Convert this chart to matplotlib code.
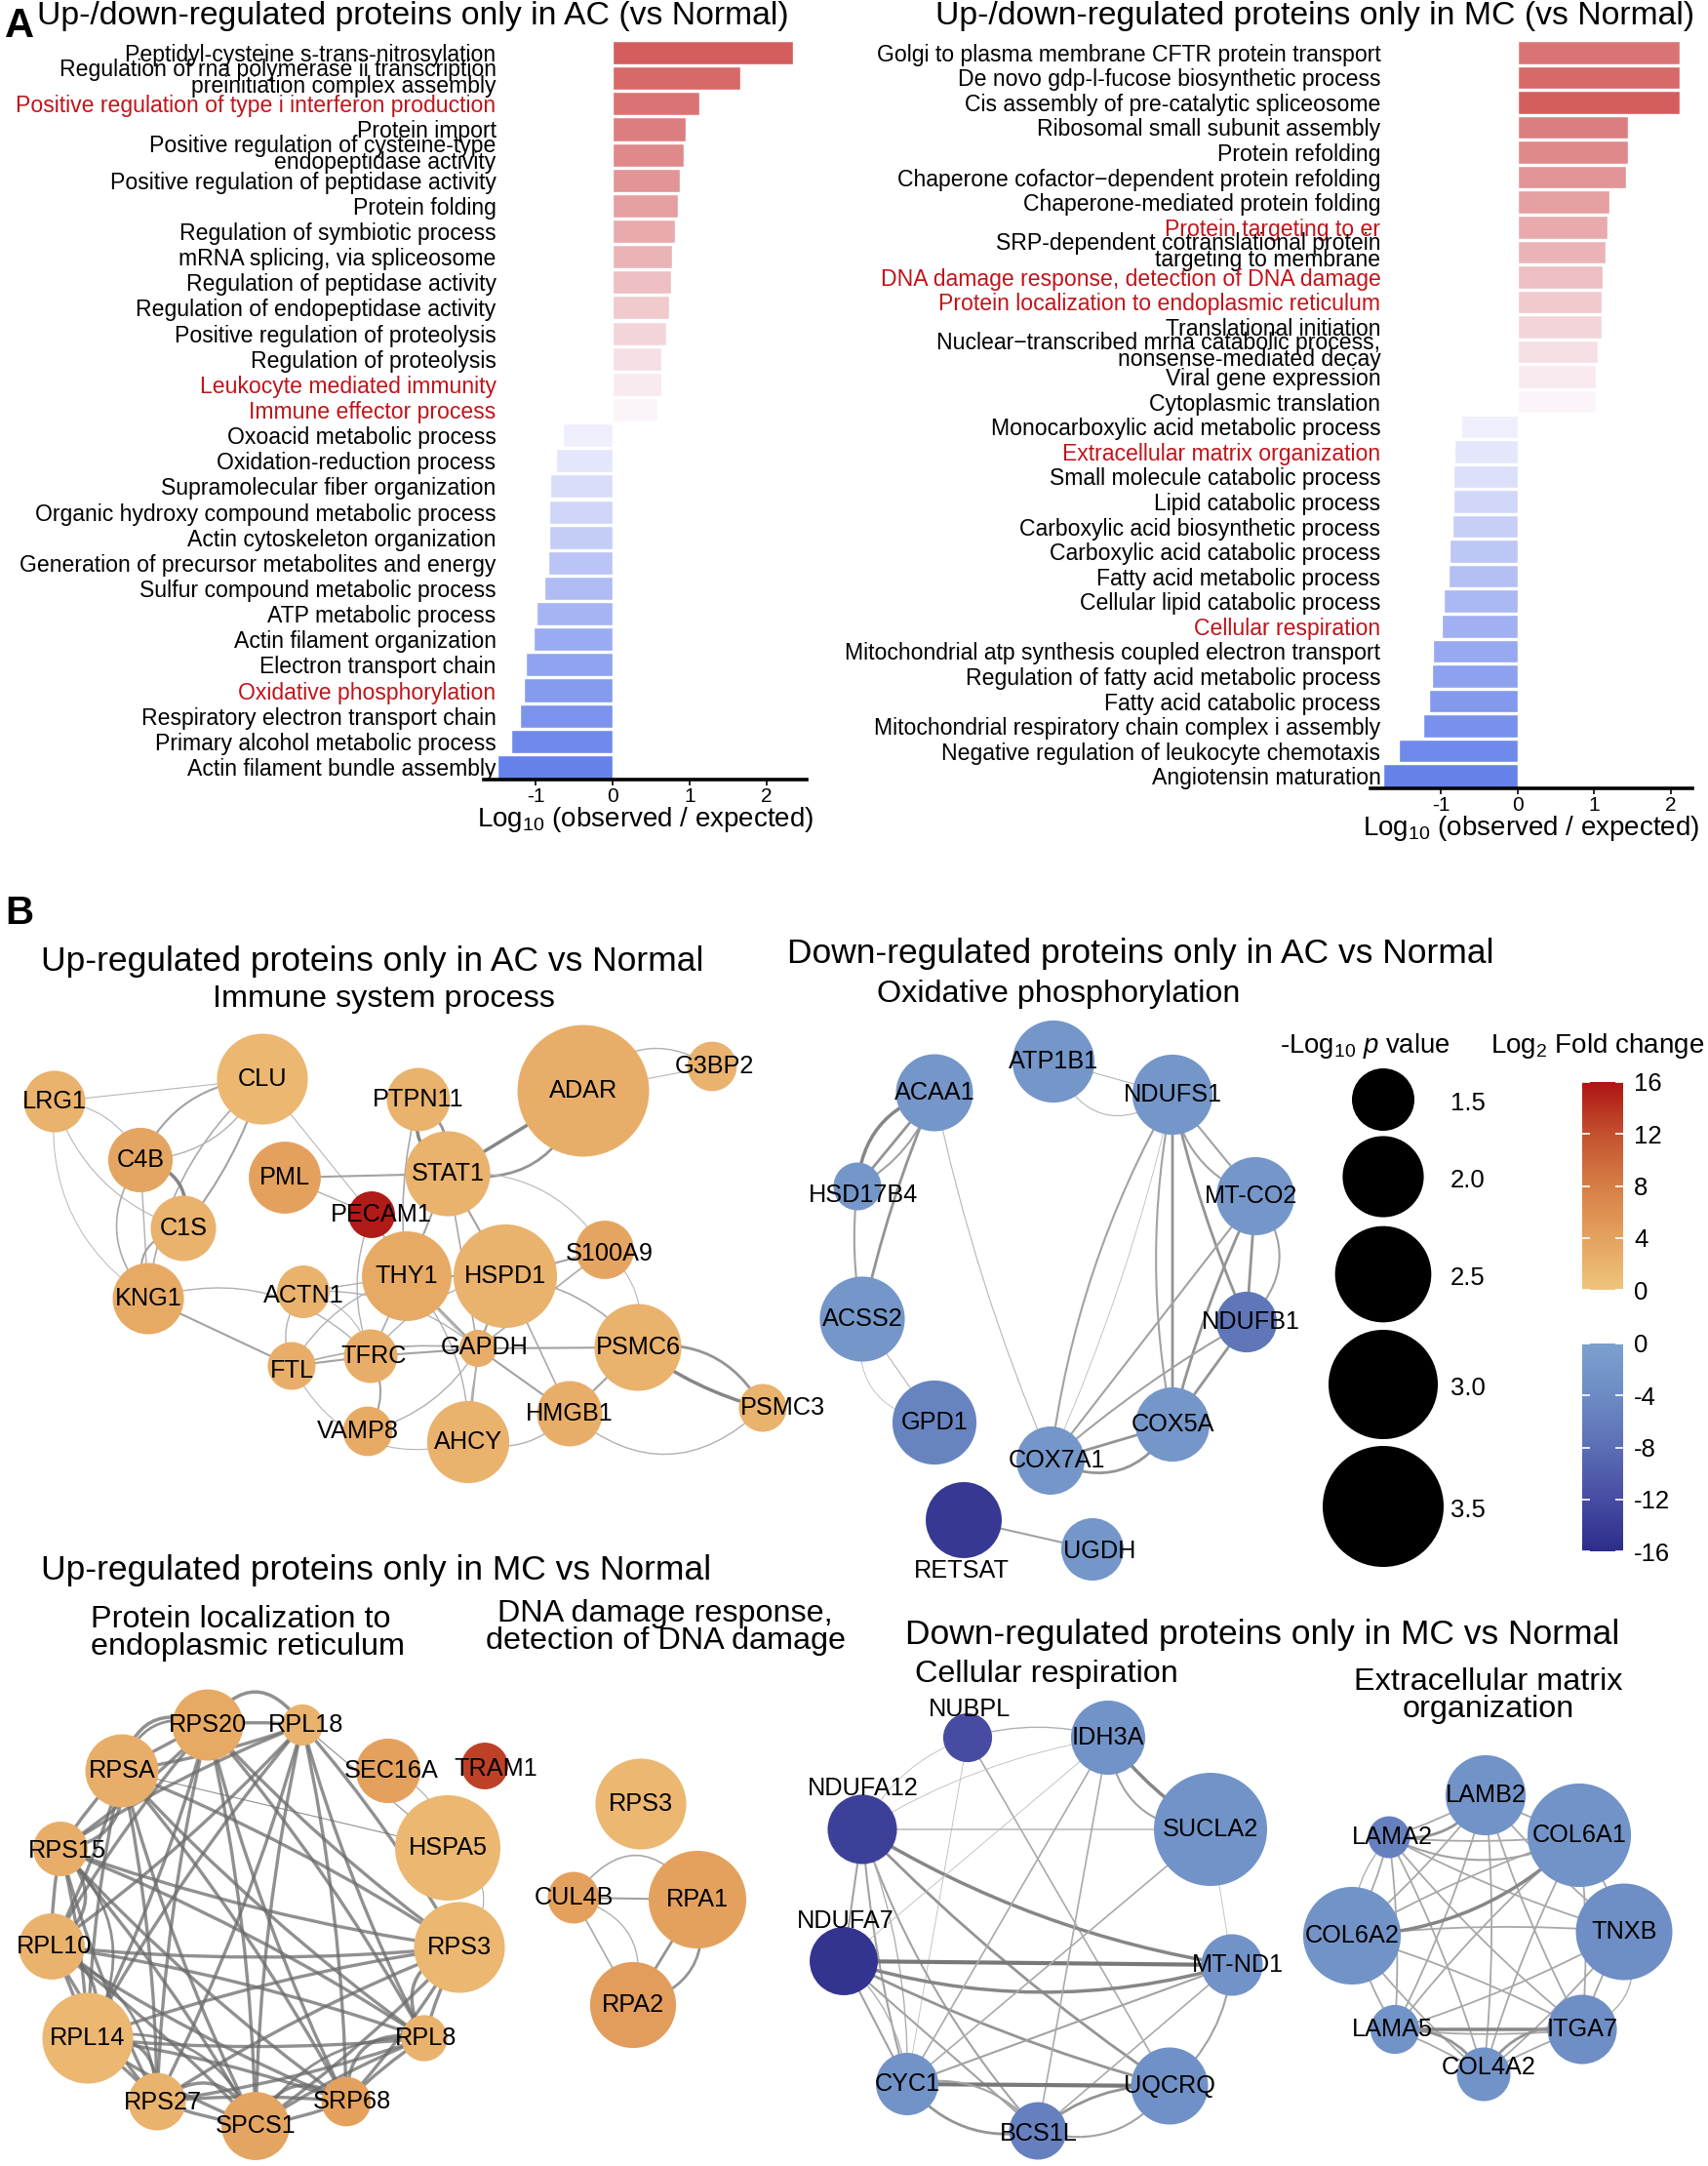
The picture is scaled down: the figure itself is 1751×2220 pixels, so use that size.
import numpy as np
import matplotlib
matplotlib.use('Agg')
import matplotlib.pyplot as plt
from matplotlib.patches import Circle, FancyArrowPatch
from matplotlib.colors import LinearSegmentedColormap, Normalize, to_rgb
from matplotlib.cm import ScalarMappable
from itertools import combinations

plt.rcParams['font.family'] = ['Liberation Sans', 'DejaVu Sans']
plt.rcParams['mathtext.fontset'] = 'custom'
plt.rcParams['mathtext.rm'] = 'Liberation Sans'
plt.rcParams['mathtext.it'] = 'Liberation Sans:italic'
plt.rcParams['mathtext.bf'] = 'Liberation Sans:bold'

# ---------------- DATA: panel A ----------------
ac_terms = [
    "Peptidyl-cysteine s-trans-nitrosylation",
    "Regulation of rna polymerase ii transcription\npreinitiation complex assembly",
    "Positive regulation of type i interferon production",
    "Protein import",
    "Positive regulation of cysteine-type\nendopeptidase activity",
    "Positive regulation of peptidase activity",
    "Protein folding",
    "Regulation of symbiotic process",
    "mRNA splicing, via spliceosome",
    "Regulation of peptidase activity",
    "Regulation of endopeptidase activity",
    "Positive regulation of proteolysis",
    "Regulation of proteolysis",
    "Leukocyte mediated immunity",
    "Immune effector process",
    "Oxoacid metabolic process",
    "Oxidation-reduction process",
    "Supramolecular fiber organization",
    "Organic hydroxy compound metabolic process",
    "Actin cytoskeleton organization",
    "Generation of precursor metabolites and energy",
    "Sulfur compound metabolic process",
    "ATP metabolic process",
    "Actin filament organization",
    "Electron transport chain",
    "Oxidative phosphorylation",
    "Respiratory electron transport chain",
    "Primary alcohol metabolic process",
    "Actin filament bundle assembly",
]
ac_values = [2.34, 1.66, 1.13, 0.95, 0.93, 0.88, 0.85, 0.81, 0.77, 0.76, 0.74, 0.70, 0.64, 0.64, 0.58,
             -0.64, -0.73, -0.81, -0.82, -0.82, -0.83, -0.89, -0.99, -1.03, -1.13, -1.15, -1.20, -1.32, -1.49]
ac_highlight = ["Positive regulation of type i interferon production", "Leukocyte mediated immunity",
                "Immune effector process", "Oxidative phosphorylation"]

mc_terms = [
    "Golgi to plasma membrane CFTR protein transport",
    "De novo gdp-l-fucose biosynthetic process",
    "Cis assembly of pre-catalytic spliceosome",
    "Ribosomal small subunit assembly",
    "Protein refolding",
    "Chaperone cofactor\u2212dependent protein refolding",
    "Chaperone-mediated protein folding",
    "Protein targeting to er",
    "SRP-dependent cotranslational protein\ntargeting to membrane",
    "DNA damage response, detection of DNA damage",
    "Protein localization to endoplasmic reticulum",
    "Translational initiation",
    "Nuclear\u2212transcribed mrna catabolic process,\nnonsense-mediated decay",
    "Viral gene expression",
    "Cytoplasmic translation",
    "Monocarboxylic acid metabolic process",
    "Extracellular matrix organization",
    "Small molecule catabolic process",
    "Lipid catabolic process",
    "Carboxylic acid biosynthetic process",
    "Carboxylic acid catabolic process",
    "Fatty acid metabolic process",
    "Cellular lipid catabolic process",
    "Cellular respiration",
    "Mitochondrial atp synthesis coupled electron transport",
    "Regulation of fatty acid metabolic process",
    "Fatty acid catabolic process",
    "Mitochondrial respiratory chain complex i assembly",
    "Negative regulation of leukocyte chemotaxis",
    "Angiotensin maturation",
]
mc_values = [2.11, 2.11, 2.11, 1.44, 1.44, 1.41, 1.20, 1.17, 1.15, 1.11, 1.10, 1.09, 1.05, 1.02, 1.02,
             -0.74, -0.82, -0.84, -0.84, -0.85, -0.89, -0.90, -0.96, -0.99, -1.10, -1.12, -1.16, -1.23, -1.55, -1.75]
mc_highlight = ["Protein targeting to er", "DNA damage response, detection of DNA damage",
                "Protein localization to endoplasmic reticulum", "Extracellular matrix organization",
                "Cellular respiration"]
mc_up_shade_rank = [2, 1, 0, 3, 4, 5, 6, 7, 8, 9, 10, 11, 12, 13, 14]

# ---------------- DATA: panel B networks ----------------
# layout positions (pixels) ; fc = log2 fold change ; nlp = -log10 p
upac_names = ["LRG1", "CLU", "C4B", "C1S", "KNG1", "PML", "PECAM1", "PTPN11", "STAT1", "ADAR", "G3BP2",
              "THY1", "HSPD1", "S100A9", "ACTN1", "FTL", "TFRC", "GAPDH", "PSMC6", "PSMC3", "VAMP8", "AHCY", "HMGB1"]
upac_x = [56, 269, 144, 188, 152, 292, 381, 429, 459, 598, 730, 417, 518, 620, 311, 299, 380, 490, 654, 782, 377, 480, 584]
upac_y = [1129, 1106, 1189, 1259, 1331, 1207, 1245, 1127, 1203, 1118, 1093, 1308, 1308, 1281, 1324, 1400, 1390, 1382,
          1381, 1443, 1467, 1478, 1449]
upac_fc = [2, 1.5, 3.5, 2, 3, 4, 15.5, 2, 2, 2.5, 2, 3, 2, 3.5, 2, 2.5, 2.5, 2.5, 2, 2, 3, 2, 2.5]
upac_nlp = [1.48, 2.31, 1.55, 1.57, 1.72, 1.74, 1.18, 1.52, 2.12, 4.0, 1.23, 2.27, 2.77, 1.41, 1.29, 1.20, 1.31,
            1.03, 2.18, 1.20, 1.23, 2.03, 1.57]
upac_edges = [
    ("LRG1", "CLU", 0.8, 0.0), ("LRG1", "C4B", 0.8, -0.3), ("LRG1", "C1S", 0.8, 0.25), ("LRG1", "KNG1", 0.7, 0.3),
    ("CLU", "C4B", 1.5, 0.3), ("CLU", "C1S", 1.5, -0.1), ("CLU", "KNG1", 1.2, 0.2), ("CLU", "C4B", 1.0, -0.3),
    ("C4B", "C1S", 2.5, -0.5), ("C4B", "KNG1", 1.0, 0.0), ("C1S", "KNG1", 1.5, 0.6), ("C4B", "KNG1", 1.2, 0.4),
    ("KNG1", "FTL", 1.5, 0.0), ("KNG1", "TFRC", 1.0, -0.3), ("CLU", "PECAM1", 0.8, 0.0),
    ("PML", "STAT1", 1.5, 0.0), ("PML", "PECAM1", 1.0, 0.0),
    ("PTPN11", "STAT1", 2.5, 0.35), ("PTPN11", "STAT1", 2.0, -0.3), ("PTPN11", "THY1", 1.2, 0.1),
    ("STAT1", "ADAR", 2.5, 0.0), ("STAT1", "ADAR", 2.0, 0.45), ("ADAR", "G3BP2", 1.0, -0.45), ("ADAR", "G3BP2", 0.8, 0.0),
    ("STAT1", "HSPD1", 1.5, 0.0), ("STAT1", "GAPDH", 1.2, 0.0), ("STAT1", "S100A9", 0.8, -0.3), ("STAT1", "THY1", 1.5, 0.0),
    ("PECAM1", "THY1", 1.2, 0.0), ("PECAM1", "TFRC", 1.0, 0.2), ("PECAM1", "GAPDH", 0.8, 0.1),
    ("THY1", "HSPD1", 1.5, 0.0), ("THY1", "GAPDH", 1.5, 0.0), ("THY1", "TFRC", 1.2, 0.0), ("THY1", "FTL", 1.0, 0.2),
    ("THY1", "ACTN1", 1.0, 0.0), ("THY1", "AHCY", 1.0, -0.2),
    ("HSPD1", "S100A9", 1.5, 0.0), ("HSPD1", "GAPDH", 1.5, 0.0), ("HSPD1", "PSMC6", 1.2, -0.2), ("HSPD1", "HMGB1", 1.2, 0.0),
    ("HSPD1", "AHCY", 1.0, 0.1), ("HSPD1", "TFRC", 1.0, 0.2), ("S100A9", "PSMC6", 0.8, -0.3), ("S100A9", "GAPDH", 1.2, 0.0),
    ("GAPDH", "PSMC6", 1.5, 0.0), ("GAPDH", "TFRC", 1.5, 0.0), ("GAPDH", "FTL", 1.2, 0.1), ("GAPDH", "AHCY", 1.2, 0.0),
    ("GAPDH", "HMGB1", 1.5, 0.0), ("GAPDH", "VAMP8", 1.0, -0.2), ("GAPDH", "ACTN1", 1.0, 0.2),
    ("PSMC6", "PSMC3", 2.5, 0.1), ("PSMC6", "PSMC3", 2.0, -0.35), ("PSMC6", "HMGB1", 1.5, 0.0), ("HMGB1", "PSMC3", 1.0, 0.45),
    ("TFRC", "VAMP8", 1.5, -0.3), ("TFRC", "FTL", 1.5, 0.0), ("ACTN1", "FTL", 1.0, 0.3), ("FTL", "AHCY", 0.8, 0.4),
    ("ACTN1", "TFRC", 0.8, -0.3), ("AHCY", "HMGB1", 1.0, 0.3),
]

dnac_names = ["ATP1B1", "ACAA1", "NDUFS1", "HSD17B4", "MT-CO2", "ACSS2", "NDUFB1", "GPD1", "COX5A", "COX7A1", "RETSAT", "UGDH"]
dnac_x = [1080, 958, 1202, 879, 1287, 884, 1278, 958, 1202, 1077, 988, 1120]
dnac_y = [1088, 1120, 1122, 1216, 1226, 1352, 1355, 1458, 1460, 1497, 1558, 1588]
dnac_fc = [-2, -2, -2, -2, -2, -2, -7, -5, -2, -2, -14.5, -2]
dnac_nlp = [2.03, 1.88, 1.97, 1.20, 1.91, 2.12, 1.46, 2.09, 1.80, 1.64, 1.85, 1.50]
dnac_edges = [
    ("ACAA1", "HSD17B4", 2.5, 0.35), ("ACAA1", "HSD17B4", 2.0, 0.0), ("ACAA1", "HSD17B4", 1.5, -0.2),
    ("ACAA1", "ACSS2", 2.0, 0.05), ("HSD17B4", "ACSS2", 1.5, 0.08), ("ACSS2", "GPD1", 0.8, 0.0), ("ACSS2", "GPD1", 0.6, 0.5),
    ("ACAA1", "COX7A1", 0.8, 0.05), ("ATP1B1", "NDUFS1", 0.8, 0.0), ("ATP1B1", "NDUFS1", 0.8, 0.6),
    ("NDUFS1", "MT-CO2", 1.5, 0.0), ("NDUFS1", "MT-CO2", 1.5, 0.3), ("NDUFS1", "NDUFB1", 2.0, 0.05),
    ("NDUFS1", "COX5A", 2.0, 0.0), ("NDUFS1", "COX5A", 1.5, 0.1), ("NDUFS1", "COX7A1", 1.5, 0.1), ("NDUFS1", "COX7A1", 0.6, -0.05),
    ("MT-CO2", "NDUFB1", 2.0, 0.0), ("MT-CO2", "NDUFB1", 1.5, -0.45), ("MT-CO2", "COX5A", 2.0, 0.05), ("MT-CO2", "COX7A1", 1.5, 0.0),
    ("NDUFB1", "COX5A", 2.0, 0.0), ("NDUFB1", "COX7A1", 1.5, 0.05), ("COX5A", "COX7A1", 2.0, 0.0), ("COX5A", "COX7A1", 2.0, -0.45),
    ("RETSAT", "UGDH", 1.5, 0.0),
]

upmc_names = ["RPS20", "RPL18", "RPSA", "SEC16A", "TRAM1", "RPS15", "HSPA5", "RPL10", "RPS3", "RPL14", "RPL8",
              "RPS27", "SPCS1", "SRP68"]
upmc_x = [213, 310, 125, 398, 497, 62, 459, 53, 471, 90, 435, 161, 262, 355]
upmc_y = [1768, 1768, 1815, 1815, 1810, 1895, 1894, 1995, 1996, 2089, 2089, 2154, 2179, 2154]
upmc_fc = [3, 2, 2.5, 4, 13, 2.5, 1.5, 2, 1.5, 1.5, 2, 2, 3.5, 4]
upmc_nlp = [1.72, 1.09, 1.77, 1.55, 1.18, 1.33, 2.84, 1.59, 2.31, 2.31, 1.17, 1.39, 1.64, 1.23]
upmc_core = ["RPS20", "RPL18", "RPSA", "RPS15", "RPL10", "RPL14", "RPS27", "SPCS1", "SRP68", "RPL8", "RPS3"]
upmc_extra_edges = [
    ("HSPA5", "RPSA", 0.8, 0.0), ("HSPA5", "SEC16A", 0.6, 0.3), ("HSPA5", "RPS3", 0.6, -0.6), ("HSPA5", "RPL18", 0.8, 0.0),
    ("RPS20", "RPL18", 2.5, -0.7), ("RPSA", "RPS20", 2.5, -0.6), ("RPS15", "RPL10", 2.5, -0.6), ("RPL10", "RPL14", 2.5, -0.5),
    ("RPL14", "RPS27", 2.5, -0.6), ("RPS27", "SPCS1", 2.5, -0.6), ("SPCS1", "SRP68", 2.5, -0.6), ("SRP68", "RPL8", 2.5, -0.6),
    ("RPL8", "RPS3", 2.5, -0.6), ("RPSA", "RPS15", 2.5, -0.5), ("RPL14", "SPCS1", 2.0, -0.4), ("RPS15", "RPL14", 2.0, -0.4),
    ("RPS20", "RPSA", 2.0, 0.5), ("RPL10", "RPS27", 2.0, -0.3), ("SPCS1", "RPL8", 2.0, -0.3),
]

dna_names = ["RPS3", "CUL4B", "RPA1", "RPA2"]
dna_x = [657, 588, 715, 649]
dna_y = [1849, 1945, 1947, 2055]
dna_fc = [1.5, 4, 4, 4.5]
dna_nlp = [2.31, 1.27, 2.55, 2.15]
dna_edges = [("CUL4B", "RPA1", 1.5, 0.0), ("CUL4B", "RPA1", 1.2, -0.7), ("CUL4B", "RPA2", 1.2, 0.0),
             ("CUL4B", "RPA2", 1.0, -0.5), ("RPA1", "RPA2", 2.0, 0.0), ("RPA1", "RPA2", 2.0, -0.5)]

resp_names = ["NUBPL", "IDH3A", "NDUFA12", "SUCLA2", "NDUFA7", "MT-ND1", "CYC1", "UQCRQ", "BCS1L"]
resp_x = [992, 1136, 884, 1241, 865, 1263, 930, 1199, 1064]
resp_y = [1781, 1781, 1875, 1875, 2010, 2014, 2136, 2138, 2184]
resp_fc = [-12, -2.5, -13.5, -2.5, -15, -2.5, -2.5, -3, -5.5]
resp_nlp = [1.22, 1.80, 1.67, 3.16, 1.64, 1.48, 1.50, 1.88, 1.39]
resp_edges = [
    ("NUBPL", "IDH3A", 1.0, -0.15), ("NUBPL", "UQCRQ", 1.2, 0.0), ("NUBPL", "NDUFA12", 0.6, 0.2), ("NUBPL", "CYC1", 0.6, 0.0),
    ("NDUFA12", "IDH3A", 0.6, -0.1), ("NDUFA12", "SUCLA2", 1.0, 0.0), ("NDUFA12", "MT-ND1", 2.5, 0.1),
    ("NDUFA12", "UQCRQ", 2.0, 0.05), ("NDUFA12", "CYC1", 1.5, 0.05), ("NDUFA12", "NDUFA7", 1.5, 0.0),
    ("NDUFA12", "BCS1L", 1.5, 0.1), ("NDUFA12", "CYC1", 1.0, -0.1),
    ("NDUFA7", "MT-ND1", 3.0, 0.0), ("NDUFA7", "MT-ND1", 2.5, 0.15), ("NDUFA7", "CYC1", 1.5, 0.0),
    ("NDUFA7", "UQCRQ", 2.0, 0.05), ("NDUFA7", "BCS1L", 1.5, 0.0), ("NDUFA7", "IDH3A", 0.6, 0.0),
    ("IDH3A", "SUCLA2", 2.5, 0.1), ("IDH3A", "SUCLA2", 1.5, 0.45), ("IDH3A", "CYC1", 1.2, 0.0), ("IDH3A", "BCS1L", 1.2, 0.0),
    ("SUCLA2", "CYC1", 1.2, 0.0), ("SUCLA2", "MT-ND1", 0.6, 0.0),
    ("MT-ND1", "CYC1", 1.5, 0.0), ("MT-ND1", "UQCRQ", 1.5, -0.2), ("MT-ND1", "BCS1L", 1.2, 0.0),
    ("CYC1", "UQCRQ", 3.0, 0.0), ("CYC1", "BCS1L", 2.0, 0.3), ("CYC1", "BCS1L", 1.5, -0.3),
    ("UQCRQ", "BCS1L", 2.0, 0.2), ("UQCRQ", "BCS1L", 1.5, -0.35), ("CYC1", "NDUFA7", 1.0, 0.2),
]

ecm_names = ["LAMB2", "LAMA2", "COL6A1", "COL6A2", "TNXB", "LAMA5", "ITGA7", "COL4A2"]
ecm_x = [1523, 1424, 1619, 1386, 1665, 1430, 1622, 1521]
ecm_y = [1840, 1883, 1881, 1984, 1980, 2080, 2080, 2126]
ecm_fc = [-2.5, -5.5, -2.5, -2.5, -3.5, -2.5, -3.5, -2.5]
ecm_nlp = [1.97, 1.10, 2.77, 2.55, 2.51, 1.22, 1.67, 1.31]
ecm_extra_edges = [("COL6A2", "COL6A1", 2.5, 0.2), ("LAMA2", "LAMB2", 2.0, 0.3), ("LAMA5", "ITGA7", 2.5, 0.0),
                   ("COL4A2", "LAMA5", 2.0, 0.3), ("COL4A2", "ITGA7", 2.0, -0.35), ("LAMA2", "COL6A1", 1.5, 0.25),
                   ("TNXB", "ITGA7", 1.0, -0.5), ("LAMA2", "COL6A2", 1.0, 0.2)]

legend_nlp = [1.5, 2.0, 2.5, 3.0, 3.5]
up_ticks = [16, 12, 8, 4, 0]
down_ticks = [0, -4, -8, -12, -16]

label_offsets = {
    "HSD17B4": (6, 9), "RETSAT": (-2, 52), "NUBPL": (2, -29), "NDUFA12": (1, -42), "NDUFA7": (2, -41),
    "PECAM1": (10, 0), "TRAM1": (11, 3), "S100A9": (5, 4), "ACTN1": (0, 4), "FTL": (0, 5), "TFRC": (3, 0),
    "GAPDH": (7, -1), "PSMC3": (20, 0), "VAMP8": (-10, 0), "MT-CO2": (-4, 0), "NDUFB1": (4, 0),
    "COX7A1": (6, 0), "UGDH": (7, 2), "RPL18": (4, 0), "SEC16A": (3, 0), "RPS15": (7, 2), "RPL10": (3, 0),
    "RPL8": (2, 0), "RPS27": (6, 1), "SRP68": (6, 0), "MT-ND1": (6, 0), "BCS1L": (1, 3), "LAMA2": (3, 0),
    "LAMA5": (-3, 0), "COL4A2": (5, -7), "G3BP2": (2, 0),
}

# ---------------- FIGURE ----------------
W, H = 1751, 2220
fig = plt.figure(figsize=(W / 100, H / 100), dpi=100)
axN = fig.add_axes([0, 0, 1, 1])
axN.set_xlim(0, W)
axN.set_ylim(H, 0)
axN.axis('off')

RED_TXT = '#C0141A'
BAR_TITLE_FS = 24.3
TITLE_FS = 25.5
SUB_FS = 23.3


def blend(c1, c2, t):
    a, b = np.array(to_rgb(c1)), np.array(to_rgb(c2))
    return tuple(a * (1 - t) + b * t)


def bar_panel(px_rect, terms, values, highlight, xlim, pad, up_rank=None):
    x0, y0, x1, y1 = px_rect
    ax = fig.add_axes([x0 / W, 1 - y1 / H, (x1 - x0) / W, (y1 - y0) / H])
    n = len(terms)
    vals = np.array(values)
    pos_idx = np.where(vals > 0)[0]
    neg_idx = np.where(vals < 0)[0]
    colors = [None] * n
    npos, nneg = len(pos_idx), len(neg_idx)
    for k, i in enumerate(pos_idx):
        r = up_rank[k] if up_rank is not None else k
        colors[i] = blend('#D45E5E', '#FBF5FA', r / (npos - 1))
    for k, i in enumerate(neg_idx):
        colors[i] = blend('#EEEEFC', '#6682EA', k / (nneg - 1))
    y = np.arange(n)
    ax.barh(y, vals, height=0.92, color=colors, edgecolor='white', linewidth=1.0)
    ax.set_ylim(n - 0.5, -0.5)
    ax.set_xlim(*xlim)
    ax.set_yticks(y)
    ax.set_yticklabels(terms, fontsize=16.6, linespacing=0.66)
    ax.tick_params(axis='y', length=0, pad=pad)
    for lab, t in zip(ax.get_yticklabels(), terms):
        if t in highlight:
            lab.set_color(RED_TXT)
    for s in ['top', 'right', 'left']:
        ax.spines[s].set_visible(False)
    ax.spines['bottom'].set_linewidth(2.6)
    ax.set_xticks([-1, 0, 1, 2])
    ax.set_xticklabels(['-1', '0', '1', '2'], fontsize=15)
    ax.tick_params(axis='x', length=4, width=1.2, pad=2)
    ax.set_xlabel(r'Log$_{\mathregular{10}}$ (observed / expected)', fontsize=20, labelpad=-1)
    ax.patch.set_visible(False)
    return ax


bar_panel((496, 41, 827, 799), ac_terms, ac_values, ac_highlight, (-1.67, 2.52), -9.0)
bar_panel((1405, 41, 1735, 808), mc_terms, mc_values, mc_highlight, (-1.92, 2.28), -7.5, mc_up_shade_rank)

axN.text(5, 27, 'A', fontsize=30, fontweight='bold', va='center', ha='left')
axN.text(423, 17, 'Up-/down-regulated proteins only in AC (vs Normal)', fontsize=BAR_TITLE_FS, ha='center', va='center')
axN.text(1348, 17, 'Up-/down-regulated proteins only in MC (vs Normal)', fontsize=BAR_TITLE_FS, ha='center', va='center')

# ---------------- panel B ----------------
up_cmap = LinearSegmentedColormap.from_list('up', [(0, '#EFC47C'), (0.25, '#E4A15E'), (0.5, '#D67E47'),
                                                   (0.75, '#C4512E'), (1, '#AD1414')])
dn_cmap = LinearSegmentedColormap.from_list('dn', [(0, '#2C2C8A'), (0.25, '#474CA2'), (0.5, '#5B6EB5'),
                                                   (0.75, '#6C8BC4'), (1, '#7CA0CE')])
up_norm = Normalize(0, 16)
dn_norm = Normalize(-16, 0)


def diam(nlp):
    return np.sqrt(np.maximum(5640 * np.asarray(nlp, float) - 4364, 100))


def draw_network(names, xs, ys, fcs, nlps, edges, dark=False):
    pos = {n: (x, y) for n, x, y in zip(names, xs, ys)}
    for a, b, w, rad in edges:
        if dark:
            g, al = 0.42, 0.75
        else:
            g, al = float(np.clip(0.80 - 0.11 * w, 0.45, 0.84)), 1.0
        p = FancyArrowPatch(pos[a], pos[b], arrowstyle='-', connectionstyle=f'arc3,rad={rad}',
                            lw=w, color=(g, g, g), alpha=al, zorder=1, shrinkA=0, shrinkB=0)
        axN.add_patch(p)
    for n, x, y, fc, v in zip(names, xs, ys, fcs, nlps):
        col = up_cmap(up_norm(fc)) if fc >= 0 else dn_cmap(dn_norm(fc))
        axN.add_patch(Circle((x, y), diam(v) / 2, facecolor=col, edgecolor='none', zorder=2))
        dx, dy = label_offsets.get(n, (0, 0))
        axN.text(x + dx, y + dy, n, ha='center', va='center', fontsize=18.2, zorder=3)


draw_network(upac_names, upac_x, upac_y, upac_fc, upac_nlp, upac_edges)
draw_network(dnac_names, dnac_x, dnac_y, dnac_fc, dnac_nlp, dnac_edges)
upmc_edges = [(a, b, 2.4, 0.05 if k % 2 else -0.05) for k, (a, b) in enumerate(combinations(upmc_core, 2))]
upmc_edges += upmc_extra_edges
draw_network(upmc_names, upmc_x, upmc_y, upmc_fc, upmc_nlp, upmc_edges, dark=True)
draw_network(dna_names, dna_x, dna_y, dna_fc, dna_nlp, dna_edges)
draw_network(resp_names, resp_x, resp_y, resp_fc, resp_nlp, resp_edges)
ecm_edges = [(a, b, 1.3, 0.05 if k % 2 else -0.05) for k, (a, b) in enumerate(combinations(ecm_names, 2))]
ecm_edges += ecm_extra_edges
draw_network(ecm_names, ecm_x, ecm_y, ecm_fc, ecm_nlp, ecm_edges)

# titles panel B
axN.text(5, 936, 'B', fontsize=29, fontweight='bold', va='center', ha='left')
axN.text(382, 986, 'Up-regulated proteins only in AC vs Normal', fontsize=TITLE_FS, ha='center', va='center')
axN.text(393, 1024, 'Immune system process', fontsize=SUB_FS, ha='center', va='center')
axN.text(1169, 978, 'Down-regulated proteins only in AC vs Normal', fontsize=TITLE_FS, ha='center', va='center')
axN.text(1085, 1019, 'Oxidative phosphorylation', fontsize=SUB_FS, ha='center', va='center')
axN.text(386, 1610, 'Up-regulated proteins only in MC vs Normal', fontsize=TITLE_FS, ha='center', va='center')
axN.text(93, 1674, 'Protein localization to\nendoplasmic reticulum', fontsize=SUB_FS, ha='left', va='center',
         linespacing=0.92)
axN.text(682, 1668, 'DNA damage response,\ndetection of DNA damage', fontsize=SUB_FS, ha='center', va='center',
         linespacing=0.92)
axN.text(1294, 1675, 'Down-regulated proteins only in MC vs Normal', fontsize=TITLE_FS, ha='center', va='center')
axN.text(1073, 1716, 'Cellular respiration', fontsize=SUB_FS, ha='center', va='center')
axN.text(1526, 1738, 'Extracellular matrix\norganization', fontsize=SUB_FS, ha='center', va='center', linespacing=0.92)

# size legend
axN.text(1399, 1072, r'-Log$_{\mathregular{10}}$ $\it{p}$ value', fontsize=19.8, ha='center', va='center')
leg_y = [1127, 1206, 1306, 1419, 1544]
for v, yy in zip(legend_nlp, leg_y):
    axN.add_patch(Circle((1418, yy), diam(v) / 2, facecolor='black', edgecolor='none', zorder=2))
    axN.text(1487, yy + 4, f'{v:.1f}', fontsize=18.5, ha='left', va='center')

# colour legends
axN.text(1638, 1072, r'Log$_{\mathregular{2}}$ Fold change', fontsize=20, ha='center', va='center')
for cmap, norm, ticks, ytop in [(up_cmap, up_norm, up_ticks, 1109), (dn_cmap, dn_norm, down_ticks, 1377)]:
    cax = fig.add_axes([1622 / W, 1 - (ytop + 213) / H, 42 / W, 213 / H])
    cb = fig.colorbar(ScalarMappable(norm=norm, cmap=cmap), cax=cax)
    cb.outline.set_visible(False)
    cb.set_ticks(ticks)
    cb.set_ticklabels([str(t) for t in ticks])
    cax.tick_params(direction='in', length=6, width=1.2, color='white', left=True, right=True,
                    labelleft=False, labelright=True, labelsize=18.5, pad=8)

fig.savefig('out.png', dpi=100)
